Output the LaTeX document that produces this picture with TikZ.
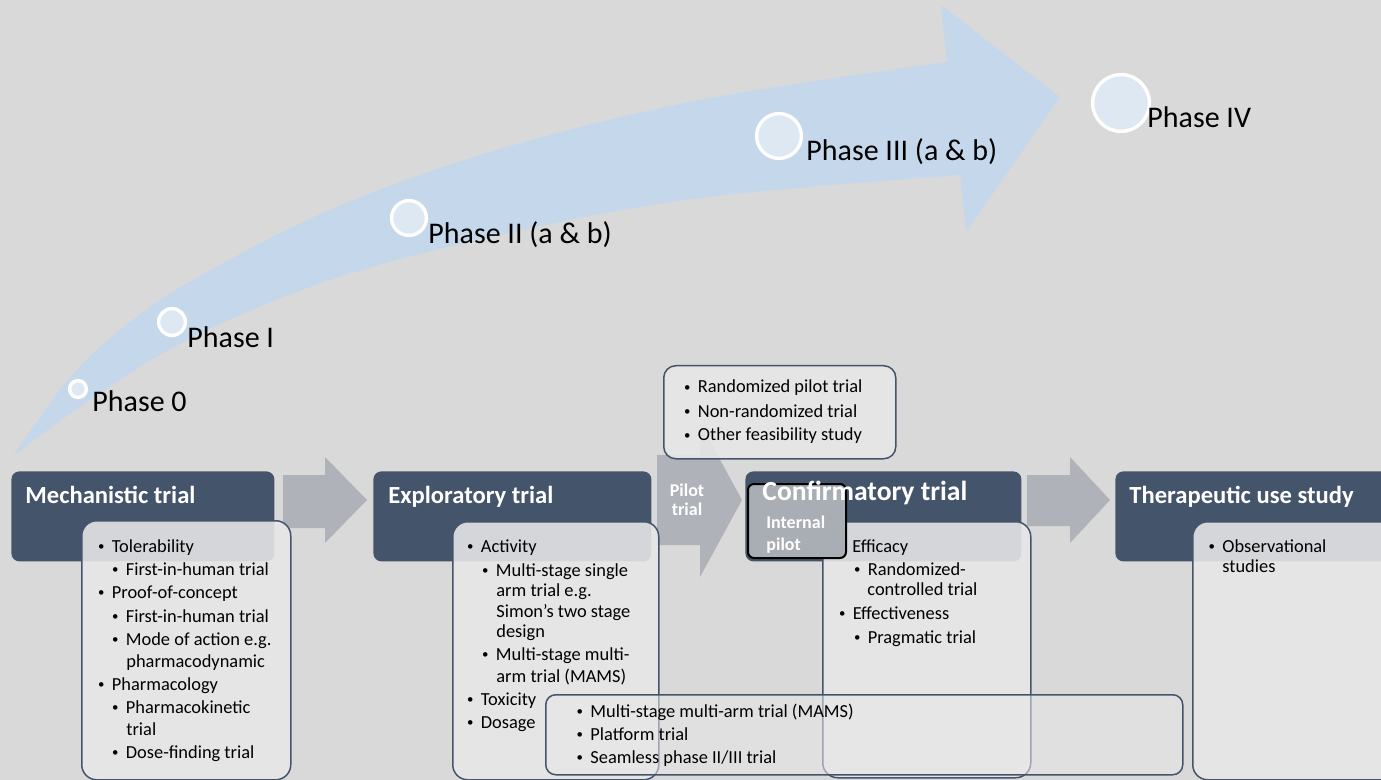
\documentclass[tikz,border=0pt]{standalone}
\usepackage{fontspec}
\usepackage{graphicx}
\setmainfont{Carlito}
\definecolor{bgc}{HTML}{D9D9D9}
\definecolor{arrowblue}{HTML}{C5D7EB}
\definecolor{circfill}{HTML}{DEE8F3}
\definecolor{hdrc}{HTML}{44546A}
\definecolor{grayarr}{HTML}{AFB2B8}
\definecolor{detc}{HTML}{E7E7E7}
\definecolor{ipc}{HTML}{A9ADB4}
\newcommand\bu{\makebox[7.5pt][l]{\hspace{0.6pt}\raisebox{0.07em}{\scalebox{0.7}{\textbullet}}}}
\begin{document}
\begin{tikzpicture}[x=0.5pt,y=-0.5pt,
  hdr/.style={fill=hdrc, rounded corners=4pt, anchor=north west, inner sep=0pt},
  det/.style={draw=hdrc, line width=0.75pt, fill=detc, fill opacity=0.89, rounded corners=7.5pt, anchor=north west, inner sep=0pt},
  lowbox/.style={draw=hdrc, line width=0.75pt, fill=detc, fill opacity=0.55, rounded corners=5pt, anchor=north west, inner sep=0pt},
  ipbox/.style={draw=black, line width=1pt, fill=ipc, rounded corners=3pt, anchor=north west, inner sep=0pt},
  phase/.style={circle, draw=white, line width=1.7pt, fill=circfill, inner sep=0pt},
  plabel/.style={anchor=base west, inner sep=0pt, font=\fontsize{15pt}{18pt}\selectfont},
  htext/.style={anchor=base west, inner sep=0pt, text=white, font=\bfseries\fontsize{12.3pt}{14pt}\selectfont},
  wtext/.style={inner sep=0pt, text=white, font=\bfseries\fontsize{9pt}{11pt}\selectfont},
  lst/.style={anchor=base west, inner sep=0pt, font=\fontsize{9.2pt}{11pt}\selectfont},
  blockarrow/.style={fill=grayarr}
]
\useasboundingbox (0,0) rectangle (1381,780);
\clip (0,0) rectangle (1381,780);
\fill[bgc] (0,0) rectangle (1381,780);

% big curved arrow
\fill[arrowblue] plot[smooth, tension=0.6] coordinates {(13,456) (68,380) (120,330) (193,280) (330,210) (497,150) (700,100) (947,62)}
  -- (941,5) -- (1060,97) -- (966,232) -- (960,175)
  -- plot[smooth, tension=0.6] coordinates {(960,175) (700,198) (500,235) (330,280) (187,340) (87,402) (13,456)} -- cycle;

% phase circles and labels
\node[phase, minimum size=8.4pt] (c0) at (78,389) {};
\node[phase, minimum size=13.4pt] (c1) at (172,322) {};
\node[phase, minimum size=17.4pt] (c2) at (409,218) {};
\node[phase, minimum size=22.4pt] (c3) at (779,136) {};
\node[phase, minimum size=28.4pt] (c4) at (1121,103) {};
\node[plabel] (l0) at (92,412) {Phase 0};
\node[plabel] (l1) at (187,348) {Phase I};
\node[plabel] (l2) at (428,244) {Phase II (a \& b)};
\node[plabel] (l3) at (806,161) {Phase III (a \& b)};
\node[plabel] (l4) at (1147,128) {Phase IV};

% block arrows
\fill[blockarrow] (283,475) -- (325,475) -- (325,457) -- (367,500) -- (325,543) -- (325,528) -- (283,528) -- cycle;
\fill[blockarrow] (657,455) -- (700,455) -- (700,423) -- (742,500) -- (700,577) -- (700,545) -- (657,545) -- cycle;
\fill[blockarrow] (1027,475) -- (1070,475) -- (1070,457) -- (1110,500) -- (1070,543) -- (1070,526) -- (1027,526) -- cycle;
\node[wtext, anchor=base] (pt1) at (687,496) {Pilot};
\node[wtext, anchor=base] (pt2) at (687,516) {trial};

% header boxes
\node[hdr, minimum width=131.5pt, minimum height=45pt] (h1) at (11,471) {};
\node[hdr, minimum width=139pt, minimum height=45pt] (h2) at (373,471) {};
\node[hdr, minimum width=138pt, minimum height=45pt] (h3) at (745,471) {};
\node[hdr, minimum width=150pt, minimum height=45pt] (h4) at (1115,471) {};
\node[htext] (ht1) at (25,503) {Mechanistic trial};
\node[htext] (ht2) at (388,503) {Exploratory trial};
\node[htext] (ht4) at (1129,503) {Therapeutic use study};

% detail boxes
\node[det, minimum width=104.5pt, minimum height=129.5pt] (d1) at (81,520) {};
\node[det, minimum width=103pt, minimum height=129pt] (d2) at (452,521) {};
\node[det, minimum width=104pt, minimum height=128pt] (d3) at (822,521) {};
\node[det, minimum width=114pt, minimum height=129pt] (d4) at (1192,521) {};
\node[det, rounded corners=6pt, minimum width=116pt, minimum height=46.5pt] (pb) at (663,365) {};

% internal pilot
\node[ipbox, minimum width=49pt, minimum height=37pt] (ip) at (747,483) {};
\node[wtext, anchor=base west] (ipt1) at (766,528) {Internal};
\node[wtext, anchor=base west] (ipt2) at (766,550) {pilot};
\node[htext, font=\bfseries\fontsize{13.8pt}{16pt}\selectfont] (ht3) at (762,500) {Confirmatory trial};

% Mechanistic list
\node[lst] (m1) at (96.5,552) {\bu Tolerability};
\node[lst] (m2) at (110.5,575) {\bu First-in-human trial};
\node[lst] (m3) at (96.5,598) {\bu Proof-of-concept};
\node[lst] (m4) at (110.5,622) {\bu First-in-human trial};
\node[lst] (m5) at (110.5,645) {\bu Mode of action e.g.};
\node[lst] (m6) at (126,667) {pharmacodynamic};
\node[lst] (m7) at (96.5,690) {\bu Pharmacology};
\node[lst] (m8) at (110.5,713) {\bu Pharmacokinetic};
\node[lst] (m9) at (126,735) {trial};
\node[lst] (m10) at (110.5,758) {\bu Dose-finding trial};

% Exploratory list
\node[lst] (e1) at (465.5,552) {\bu Activity};
\node[lst] (e2) at (480.5,576) {\bu Multi-stage single};
\node[lst] (e3) at (496,596) {arm trial e.g.};
\node[lst] (e4) at (496,617) {Simon’s two stage};
\node[lst] (e5) at (496,637) {design};
\node[lst] (e6) at (480.5,660) {\bu Multi-stage multi-};
\node[lst] (e7) at (496,682) {arm trial (MAMS)};
\node[lst] (e8) at (465.5,705) {\bu Toxicity};
\node[lst] (e9) at (465.5,728) {\bu Dosage};

% Pilot list
\node[lst] (p1) at (682.5,393) {\bu Randomized pilot trial};
\node[lst] (p2) at (682.5,417) {\bu Non-randomized trial};
\node[lst] (p3) at (682.5,441) {\bu Other feasibility study};

% Confirmatory list
\node[lst] (f1) at (852,552) {Efficacy};
\node[lst] (f2) at (852.4,575) {\bu Randomized-};
\node[lst] (f3) at (867,595) {controlled trial};
\node[lst] (f4) at (837.4,619) {\bu Effectiveness};
\node[lst] (f5) at (852.4,643) {\bu Pragmatic trial};

% Therapeutic list
\node[lst] (t1) at (1207,552) {\bu Observational};
\node[lst] (t2) at (1222,572) {studies};

% bottom box
\node[lowbox, minimum width=318.5pt, minimum height=40pt] (bb) at (545,694) {};
\node[lst] (b1) at (575,717) {\bu Multi-stage multi-arm trial (MAMS)};
\node[lst] (b2) at (575,740) {\bu Platform trial};
\node[lst] (b3) at (575,763) {\bu Seamless phase II/III trial};
\end{tikzpicture}
\end{document}
